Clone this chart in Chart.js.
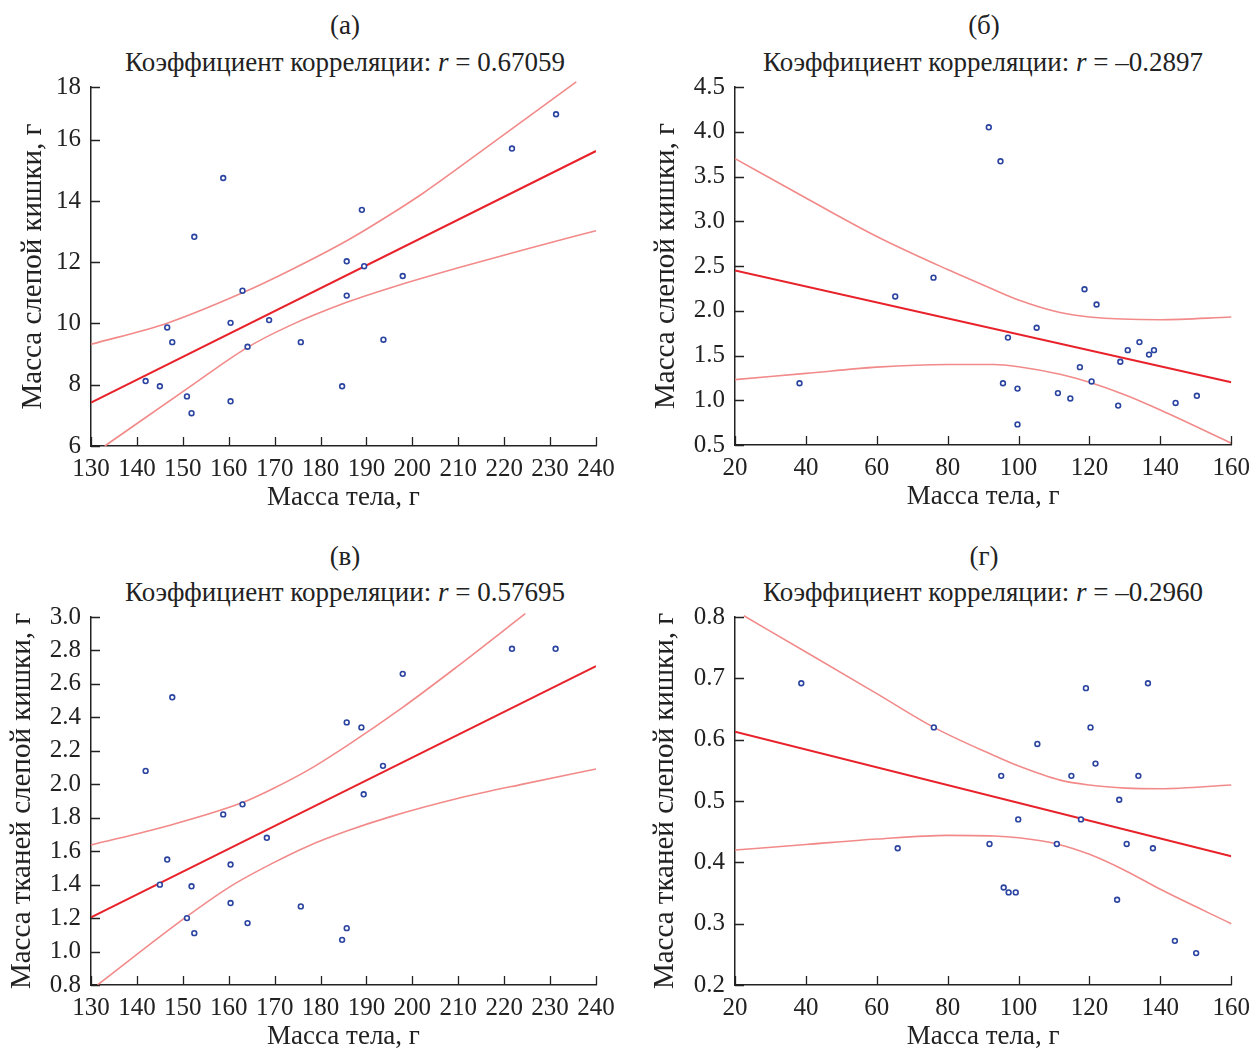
<!DOCTYPE html>
<html>
<head>
<meta charset="utf-8">
<script src="https://cdn.jsdelivr.net/npm/chart.js@4.4.1/dist/chart.umd.min.js"></script>
<style>
  html, body { margin: 0; padding: 0; background: #fff; }
  body { width: 1258px; height: 1049px; position: relative; overflow: hidden;
         font-family: "Liberation Serif", "Times New Roman", Tinos, "DejaVu Serif", "Noto Serif", serif; color: #222; }
  canvas { position: absolute; }
  .lab { position: absolute; transform: translate(-50%, -50%); white-space: nowrap; font-size: 27px; }
</style>
</head>
<body>
<div class="lab" style="left:345px;top:25px">(а)</div>
<div class="lab" style="left:345px;top:62px">Коэффициент корреляции: <i>r</i> = 0.67059</div>
<div class="lab" style="left:984px;top:25px">(б)</div>
<div class="lab" style="left:983px;top:62px">Коэффициент корреляции: <i>r</i> = –0.2897</div>
<div class="lab" style="left:345px;top:556px">(в)</div>
<div class="lab" style="left:345px;top:592px">Коэффициент корреляции: <i>r</i> = 0.57695</div>
<div class="lab" style="left:984px;top:556px">(г)</div>
<div class="lab" style="left:983px;top:592px">Коэффициент корреляции: <i>r</i> = –0.2960</div>

<canvas id="cA" width="629" height="469" style="left:0;top:62px"></canvas>
<canvas id="cB" width="618" height="468" style="left:640px;top:62px"></canvas>
<canvas id="cV" width="629" height="478" style="left:0;top:592px"></canvas>
<canvas id="cG" width="618" height="478" style="left:640px;top:592px"></canvas>

<script>
// (а) масса тела – масса слепой кишки
const bodyA = [141.9, 145.0, 146.6, 147.7, 150.9, 151.9, 152.5, 158.8, 160.4, 160.4, 163.0, 164.1,
  168.8, 175.7, 184.7, 185.7, 185.7, 189.0, 189.5, 193.7, 197.9, 221.7, 231.3];
const cecumA = [8.12, 7.95, 9.87, 9.39, 7.62, 7.07, 12.83, 14.75, 10.02, 7.46, 11.07, 9.24,
  10.11, 9.39, 7.95, 12.03, 10.91, 13.71, 11.87, 9.47, 11.55, 15.71, 16.83];
const fitAx = [130, 240];
const fitAy = [7.42, 15.63];
const upAx = [130, 146.6, 163.0, 173.3, 185.7, 195.1, 202.4, 216.9, 235.7];
const upAy = [9.32, 10.01, 11.0, 11.73, 12.70, 13.55, 14.26, 15.83, 17.89];
const loAx = [133.0, 151.5, 164.1, 173.3, 185.7, 195.1, 209.6, 224.1, 240];
const loAy = [6.00, 7.93, 9.22, 9.93, 10.69, 11.16, 11.80, 12.40, 13.03];
const ticksYA = [6, 8, 10, 12, 14, 16, 18];
const topYA = 17.72; // верх оси ниже отметки «18»

// (б)
const bodyB = [38.2, 65.2, 76.0, 91.6, 94.9, 95.6, 97.0, 99.7, 99.7, 105.1, 111.1, 114.6,
  117.3, 118.6, 120.6, 122.0, 128.1, 128.7, 130.8, 134.1, 136.8, 138.2, 144.3, 150.3];
const cecumB = [1.19, 2.16, 2.37, 4.05, 3.67, 1.19, 1.70, 1.13, 0.73, 1.81, 1.08, 1.02,
  1.37, 2.24, 1.21, 2.07, 0.94, 1.43, 1.56, 1.65, 1.51, 1.56, 0.97, 1.05];
const fitBx = [20, 160];
const fitBy = [2.45, 1.20];
const upBx = [20, 40, 60, 80, 91.6, 100, 111.7, 120, 140, 160];
const upBy = [3.70, 3.26, 2.83, 2.46, 2.26, 2.12, 1.98, 1.93, 1.90, 1.93];
const loBx = [20, 40, 60, 80, 93, 100, 111.7, 120, 130.3, 140, 160];
const loBy = [1.23, 1.30, 1.37, 1.40, 1.40, 1.375, 1.29, 1.20, 1.055, 0.89, 0.52];

// (в) масса тканей
const bodyV = [141.9, 145.0, 146.6, 147.7, 150.9, 151.9, 152.5, 158.8, 160.4, 160.4, 163.0, 164.1,
  168.3, 175.7, 184.7, 185.7, 185.7, 188.9, 189.4, 193.6, 197.9, 221.7, 231.2];
const tissueV = [2.08, 1.40, 1.55, 2.52, 1.20, 1.39, 1.11, 1.82, 1.52, 1.29, 1.88, 1.17,
  1.68, 1.27, 1.07, 1.14, 2.37, 2.34, 1.94, 2.11, 2.66, 2.81, 2.81];
const fitVx = [130, 240];
const fitVy = [1.205, 2.706];
const upVx = [130, 146.6, 163.0, 169.7, 177.0, 185.7, 197.9, 209.6, 224.6];
const upVy = [1.637, 1.751, 1.891, 1.975, 2.08, 2.23, 2.46, 2.70, 3.02];
const loVx = [131.4, 150.9, 160.4, 169.7, 177.0, 185.7, 195.1, 209.6, 224.1, 240];
const loVy = [0.80, 1.21, 1.39, 1.53, 1.627, 1.72, 1.805, 1.913, 2.001, 2.091];

// (г)
const bodyG = [38.7, 65.9, 76.1, 91.8, 95.1, 95.8, 97.2, 99.2, 99.9, 105.3, 110.8, 114.9,
  117.6, 119.0, 120.3, 121.7, 127.8, 128.4, 130.5, 133.8, 136.5, 137.9, 144.1, 150.1];
const tissueG = [0.692, 0.423, 0.620, 0.430, 0.541, 0.359, 0.351, 0.351, 0.470, 0.593, 0.430, 0.541,
  0.470, 0.684, 0.620, 0.561, 0.339, 0.502, 0.430, 0.541, 0.692, 0.423, 0.272, 0.252];
const fitGx = [20, 160];
const fitGy = [0.613, 0.410];
const upGx = [22.5, 40, 60, 76.1, 93.1, 100, 111.7, 120, 130.3, 140, 160];
const upGy = [0.802, 0.743, 0.675, 0.620, 0.574, 0.557, 0.534, 0.526, 0.521, 0.520, 0.526];
const loGx = [20, 40, 60, 80, 93.1, 100, 110.8, 120, 130.3, 140, 160];
const loGy = [0.420, 0.429, 0.438, 0.444, 0.443, 0.440, 0.430, 0.413, 0.386, 0.356, 0.300];

const xTitle = 'Масса тела, г';
const yTitleCecum = 'Масса слепой кишки, г';
const yTitleTissue = 'Масса тканей слепой кишки, г';

const INK = '#222';
const FAMILY = '"Liberation Serif", "Times New Roman", Tinos, "DejaVu Serif", "Noto Serif", serif';
const FONT = { family: FAMILY, size: 25 };
const XTITLE_FONT = { family: FAMILY, size: 27 };
const YTITLE_FONT = { family: FAMILY, size: 29 };

const pts = (xs, ys) => xs.map((x, i) => ({ x, y: ys[i] }));

// засечки внутрь области графика
const innerTicks = {
  id: 'innerTicks',
  afterDraw(chart) {
    const { ctx, chartArea: a, scales: { x, y } } = chart;
    ctx.save();
    ctx.strokeStyle = INK;
    ctx.lineWidth = 1.3;
    ctx.beginPath();
    x.ticks.forEach(t => {
      const px = Math.round(x.getPixelForValue(t.value)) + 0.5;
      ctx.moveTo(px, a.bottom);
      ctx.lineTo(px, a.bottom - 9);
    });
    y.ticks.forEach(t => {
      const py = Math.round(y.getPixelForValue(t.value)) + 0.5;
      ctx.moveTo(a.left, py);
      ctx.lineTo(a.left + 9, py);
    });
    ctx.stroke();
    ctx.restore();
  }
};

function makePanel(id, p) {
  const band = (xs, ys) => ({
    data: pts(xs, ys), showLine: true, pointRadius: 0,
    borderColor: '#f28a8a', borderWidth: 1.6, cubicInterpolationMode: 'monotone',
    clip: { left: 2, top: 10, right: 2, bottom: 2 }
  });
  return new Chart(document.getElementById(id), {
    type: 'scatter',
    data: {
      datasets: [
        { data: pts(p.x, p.y), pointRadius: 2.4, pointBorderWidth: 1.6,
          pointBorderColor: '#2b44a0', pointBackgroundColor: '#fff' },
        { data: pts(p.fitX, p.fitY), showLine: true, pointRadius: 0,
          borderColor: '#e8222a', borderWidth: 2 },
        band(p.upX, p.upY),
        band(p.loX, p.loY)
      ]
    },
    options: {
      responsive: false,
      animation: false,
      layout: { padding: { top: 25, right: p.padRight, bottom: 0, left: 0 } },
      plugins: { legend: { display: false }, tooltip: { enabled: false } },
      scales: {
        x: {
          type: 'linear', min: p.xMin, max: p.xMax,
          grid: { drawOnChartArea: false, drawTicks: false },
          border: { color: INK, width: 1.5 },
          ticks: { stepSize: p.xStep, color: INK, font: FONT, padding: 8, autoSkip: false, maxRotation: 0 },
          title: { display: true, text: xTitle, color: INK, font: XTITLE_FONT, padding: { top: 0, bottom: 17 } },
          afterFit: s => { s.height = 85; }
        },
        y: {
          type: 'linear', min: p.yMin, max: p.yMax,
          grid: { drawOnChartArea: false, drawTicks: false },
          border: { color: INK, width: 1.5 },
          ticks: { stepSize: p.yStep, color: INK, font: FONT, padding: 10, autoSkip: false, callback: p.yLabel },
          afterBuildTicks: p.yTicks,
          title: { display: true, text: p.yTitle, color: INK, font: YTITLE_FONT, padding: { top: p.yTitlePad, bottom: 0 } },
          afterFit: s => { s.width = p.yWidth; }
        }
      }
    },
    plugins: [innerTicks]
  });
}

makePanel('cA', {
  x: bodyA, y: cecumA, fitX: fitAx, fitY: fitAy, upX: upAx, upY: upAy, loX: loAx, loY: loAy,
  xMin: 130, xMax: 240, xStep: 10, yMin: 6, yMax: topYA, yStep: 2,
  yTicks: s => { s.ticks = ticksYA.map(v => ({ value: Math.min(v, topYA) })); },
  yLabel: v => (v > 17 ? '18' : String(v)),
  yTitle: yTitleCecum, yTitlePad: 15.6, yWidth: 91, padRight: 33
});
makePanel('cB', {
  x: bodyB, y: cecumB, fitX: fitBx, fitY: fitBy, upX: upBx, upY: upBy, loX: loBx, loY: loBy,
  xMin: 20, xMax: 160, xStep: 20, yMin: 0.5, yMax: 4.5, yStep: 0.5,
  yLabel: v => v.toFixed(1),
  yTitle: yTitleCecum, yTitlePad: 8.6, yWidth: 95, padRight: 21
});
makePanel('cV', {
  x: bodyV, y: tissueV, fitX: fitVx, fitY: fitVy, upX: upVx, upY: upVy, loX: loVx, loY: loVy,
  xMin: 130, xMax: 240, xStep: 10, yMin: 0.8, yMax: 3.0, yStep: 0.2,
  yLabel: v => v.toFixed(1),
  yTitle: yTitleTissue, yTitlePad: 4.6, yWidth: 91, padRight: 33
});
makePanel('cG', {
  x: bodyG, y: tissueG, fitX: fitGx, fitY: fitGy, upX: upGx, upY: upGy, loX: loGx, loY: loGy,
  xMin: 20, xMax: 160, xStep: 20, yMin: 0.2, yMax: 0.8, yStep: 0.1,
  yLabel: v => v.toFixed(1),
  yTitle: yTitleTissue, yTitlePad: 7.6, yWidth: 95, padRight: 21
});
</script>
</body>
</html>
